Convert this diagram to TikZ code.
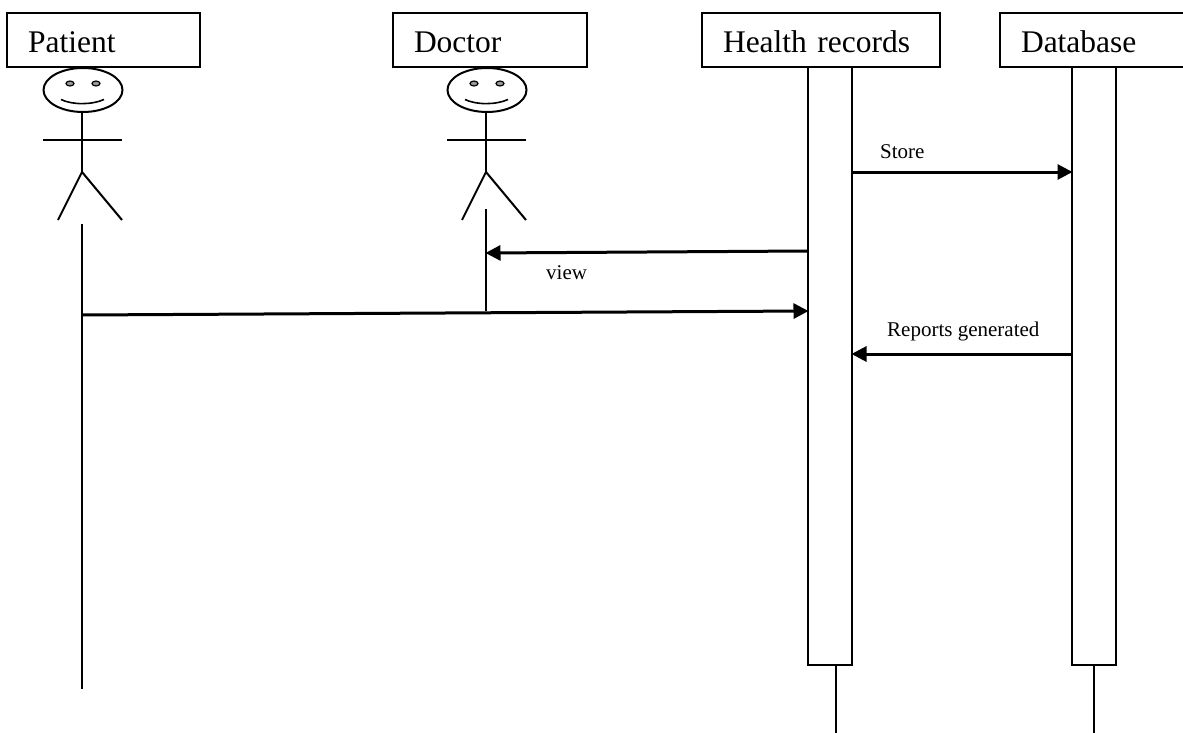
\documentclass[tikz,border=0pt]{standalone}
\usepackage{fontspec}
\setmainfont{Liberation Serif}
\usetikzlibrary{arrows.meta, positioning, calc, shapes}

\begin{document}
\begin{tikzpicture}[
    x=1pt, y=-1pt,
    title/.style={rectangle, draw=black, line width=2pt, outer sep=0pt, anchor=north west, minimum height=54pt, inner xsep=21pt, inner ysep=0pt, align=left, text height=29pt, text depth=3pt, font=\fontsize{31.5}{34}\selectfont},
    bar/.style={rectangle, draw=black, fill=white, line width=2pt, outer sep=0pt, anchor=north west, minimum width=44pt, minimum height=598pt, inner sep=0pt},
    life/.style={draw=black, line width=2pt},
    msg/.style={draw=black, line width=3pt, -{Triangle[length=15pt,width=15pt]}, shorten >=-0.5pt},
    lbl/.style={inner sep=0pt, font=\fontsize{21}{24}\selectfont}
]
\clip (0,0) rectangle (1183,733);
\useasboundingbox (0,0) rectangle (1183,733);

% Title boxes
\node[title, text width=151pt] (patient) at (7,13) {Patient};
\node[title, text width=152pt] (doctor) at (393,13) {Doctor};
\node[title, text width=196pt] (health) at (702,13) {Health records};
\node[title, text width=170pt] (database) at (1000,13) {Database};

% Stick figures
\foreach \name/\xpos in {patientman/0, doctorman/404} {
    \begin{scope}[xshift=\xpos pt]
        \node[ellipse, draw=black, line width=2pt, minimum width=79pt, minimum height=44pt, inner sep=0pt] (\name head) at (83,90) {};
        \node[ellipse, draw=black, fill=black!40, line width=1.2pt, minimum width=8pt, minimum height=5pt, inner sep=0pt] (\name eyel) at (70,83.5) {};
        \node[ellipse, draw=black, fill=black!40, line width=1.2pt, minimum width=8pt, minimum height=5pt, inner sep=0pt] (\name eyer) at (96,83.5) {};
        \coordinate (\name hip) at (82,172);
        \draw[life, line width=1.6pt] (61,99.5) .. controls (72,105) and (92,105) .. (104,99.5);
        \draw[life] (\name head.south -| \name hip) -- (\name hip);
        \draw[life] (43,140) -- (122,140);
        \draw[life] (58,220) -- (\name hip) -- (122,220);
    \end{scope}
}

% Activation bars
\node[bar] (healthbar) at (808,67) {};
\node[bar] (databasebar) at (1072,67) {};

% Life lines
\coordinate (patienttop) at (82,224);
\coordinate (patientend) at (82,689);
\coordinate (doctortop) at (486,209);
\coordinate (doctorend) at (486,311);
\coordinate (healthend) at (836,733);
\coordinate (databaseend) at (1094,733);
\draw[life] (patienttop) -- (patientend);
\draw[life] (doctortop) -- (doctorend);
\draw[life] (healthbar.south -| healthend) -- (healthend);
\draw[life] (databasebar.south -| databaseend) -- (databaseend);

% Messages
\draw[msg] (852,172) -- (1072,172);
\draw[msg] (808,251) -- (486,253);
\draw[msg] (82,315) -- (808,311);
\draw[msg] (1072,354) -- (852,354);

% Labels
\node[lbl, anchor=base west] (storelbl) at (880,158.5) {Store};
\node[lbl, anchor=base west] (viewlbl) at (546,279) {view};
\node[lbl, anchor=base west] (reportslbl) at (887,336) {Reports generated};

\end{tikzpicture}
\end{document}
